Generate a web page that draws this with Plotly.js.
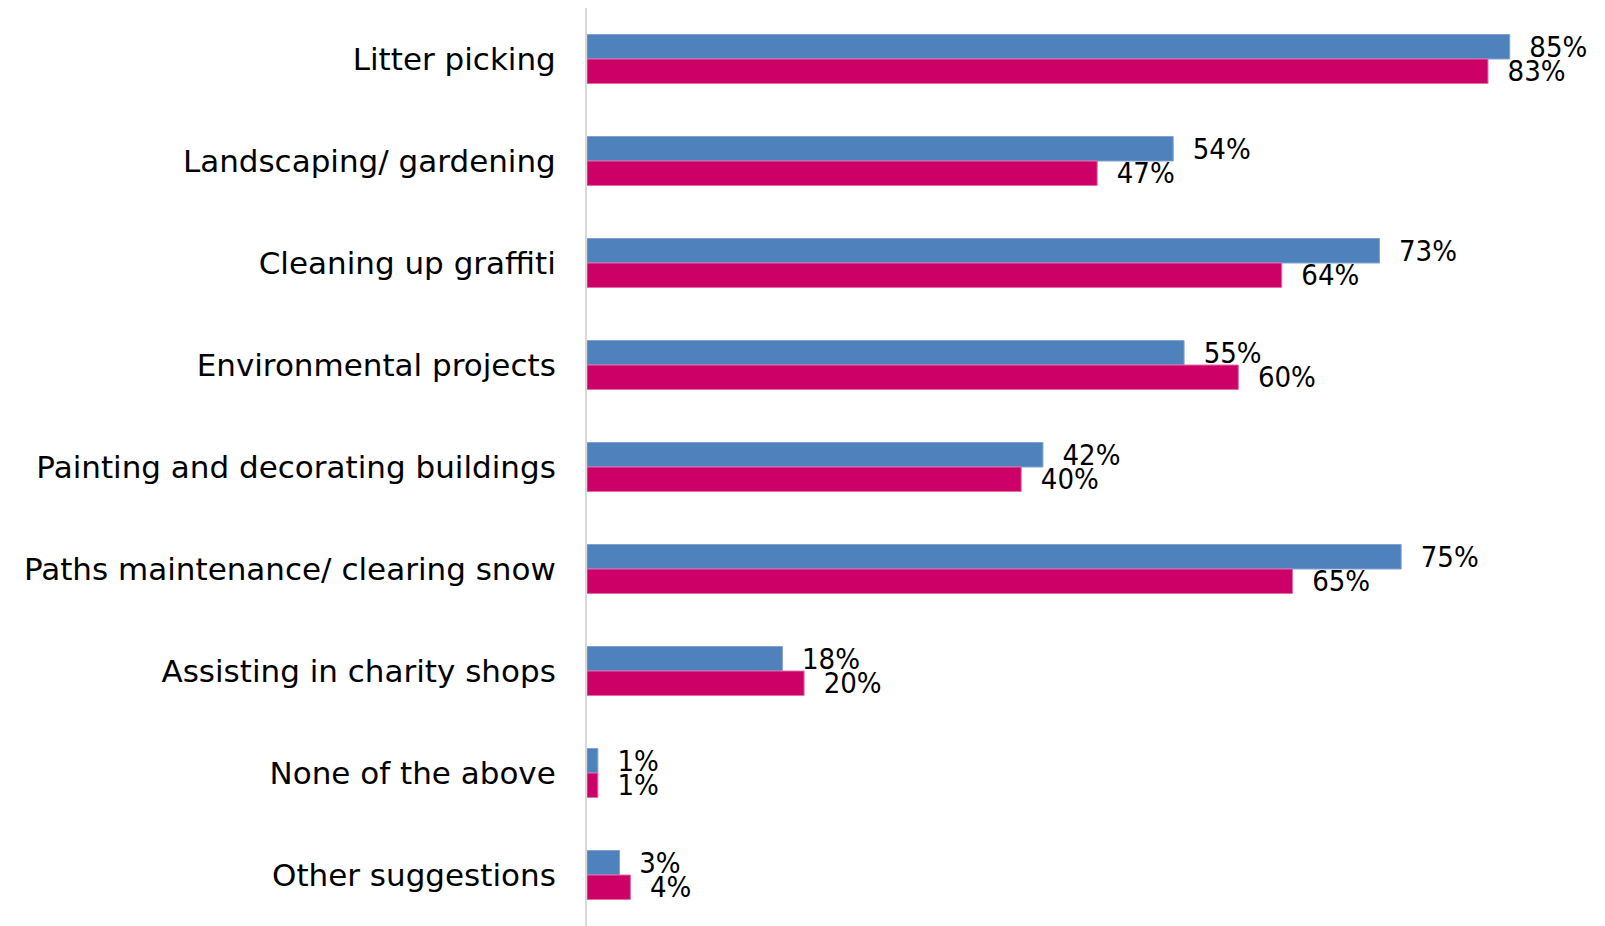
<!DOCTYPE html>
<html>
<head>
<meta charset="utf-8">
<script src="https://cdn.plot.ly/plotly-3.0.1.min.js"></script>
<style>html,body{margin:0;padding:0;background:#fff;}#chart{width:1605px;height:926px;}</style>
</head>
<body>
<div id="chart"></div>
<script>
const categories = [
  "Litter picking",
  "Landscaping/ gardening",
  "Cleaning up graffiti",
  "Environmental projects",
  "Painting and decorating buildings",
  "Paths maintenance/ clearing snow",
  "Assisting in charity shops",
  "None of the above",
  "Other suggestions"
];
const seriesBlue = [85, 54, 73, 55, 42, 75, 18, 1, 3];
const seriesPink = [83, 47, 64, 60, 40, 65, 20, 1, 4];

const labelFont = {family: "'DejaVu Sans Condensed', 'DejaVu Sans', sans-serif", size: 29, color: "#000"};
const pad = "\u00a0\u00a0";

const traces = [
  {
    type: "bar", orientation: "h", name: "Series 1",
    y: categories, x: seriesBlue,
    marker: {color: "#4F81BD", line: {color: "#7FA3D0", width: 1}},
    texttemplate: pad + "%{x}%", textposition: "outside", cliponaxis: false,
    constraintext: "none", textfont: labelFont, hoverinfo: "x+y"
  },
  {
    type: "bar", orientation: "h", name: "Series 2",
    y: categories, x: seriesPink,
    marker: {color: "#CD0067", line: {color: "#E070A8", width: 1}},
    texttemplate: pad + "%{x}%", textposition: "outside", cliponaxis: false,
    constraintext: "none", textfont: labelFont, hoverinfo: "x+y"
  }
];

const layout = {
  width: 1605, height: 926,
  margin: {l: 587, r: 41, t: 8, b: 0, pad: 0},
  paper_bgcolor: "#fff", plot_bgcolor: "#fff",
  showlegend: false,
  barmode: "group", bargap: 0.52, bargroupgap: 0,
  xaxis: {range: [0, 90], visible: false, showgrid: false, zeroline: false, fixedrange: true},
  yaxis: {
    autorange: "reversed", type: "category",
    showline: true, linecolor: "#D9D9D9", linewidth: 2,
    showgrid: false, zeroline: false, ticks: "",
    ticklabelstandoff: 23,
    tickfont: {family: "'DejaVu Sans', sans-serif", size: 31, color: "#000"}
  }
};

Plotly.newPlot("chart", traces, layout, {displayModeBar: false, staticPlot: true});
</script>
</body>
</html>
